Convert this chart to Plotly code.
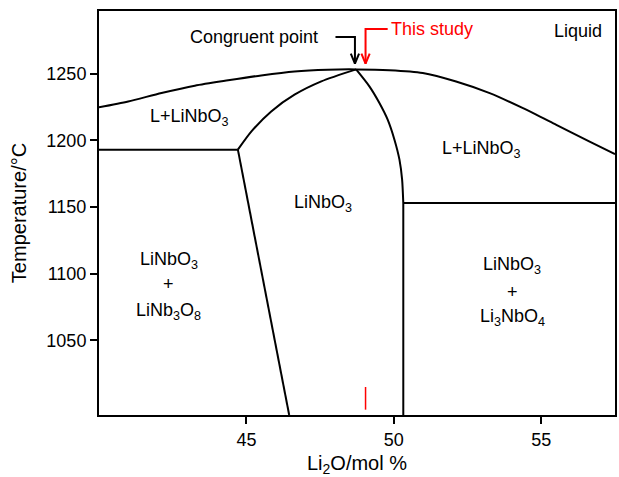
import plotly.graph_objects as go

# Phase boundaries (Li2O mol %, Temperature °C)
liquidus_x = [40.0, 40.99, 42.12, 43.25, 44.38, 45.5, 46.63, 47.76, 48.72,
              49.85, 50.98, 52.11, 53.25, 54.38, 55.51, 56.64, 57.5]
liquidus_y = [1224.8, 1229.2, 1235.5, 1241.0, 1245.0, 1248.7, 1251.7, 1253.0, 1253.2,
              1252.6, 1250.5, 1244.1, 1235.4, 1224.1, 1211.6, 1199.0, 1189.6]

solidus_left_x = [44.71, 45.17, 45.84, 46.63, 47.54, 48.72]
solidus_left_y = [1193.0, 1206.7, 1221.7, 1234.2, 1244.2, 1253.2]

solidus_right_x = [48.72, 49.17, 49.51, 49.79, 50.02, 50.19, 50.28, 50.32]
solidus_right_y = [1253.2, 1240.5, 1228.0, 1215.5, 1200.5, 1185.5, 1170.5, 1153.0]

vertical_right_x = [50.32, 50.32]
vertical_right_y = [1153.0, 994.0]

eutectic_left_x = [40.0, 44.71]
eutectic_left_y = [1193.0, 1193.0]

solvus_left_x = [44.71, 46.45]
solvus_left_y = [1193.0, 994.0]

eutectic_right_x = [50.32, 57.5]
eutectic_right_y = [1153.0, 1153.0]

# arrows (elbow paths)
congruent_arrow_x = [48.02, 48.68, 48.68]
congruent_arrow_y = [1277.5, 1277.5, 1257.5]
study_arrow_x = [49.79, 49.04, 49.04]
study_arrow_y = [1283.5, 1283.5, 1257.5]

# red composition marker at bottom
study_marker_x = [49.04, 49.04]
study_marker_y = [998.0, 1015.0]

x_ticks = [45, 50, 55]
y_ticks = [1050, 1100, 1150, 1200, 1250]

FONT = "Liberation Sans, Arial, sans-serif"

fig = go.Figure()

def add_line(xs, ys, color="black", width=2, shape="linear", smoothing=1.0):
    line = dict(color=color, width=width, shape=shape)
    if shape == "spline":
        line["smoothing"] = smoothing
    fig.add_trace(go.Scatter(x=xs, y=ys, mode="lines", line=line,
                             hoverinfo="skip", showlegend=False))

add_line(liquidus_x, liquidus_y, shape="spline", smoothing=0.7)
add_line(solidus_left_x, solidus_left_y, shape="spline", smoothing=0.7)
add_line(solidus_right_x, solidus_right_y, shape="spline", smoothing=0.7)
add_line(vertical_right_x, vertical_right_y)
add_line(eutectic_left_x, eutectic_left_y)
add_line(solvus_left_x, solvus_left_y)
add_line(eutectic_right_x, eutectic_right_y)
add_line(study_marker_x, study_marker_y, color="red", width=1.5)

def add_arrow(xs, ys, color):
    add_line(xs, ys, color=color, width=2)
    tx, ty = xs[-1], ys[-1]
    hw, hl = 0.14, 7.5
    add_line([tx - hw, tx, tx + hw], [ty + hl, ty, ty + hl], color=color, width=2)

add_arrow(congruent_arrow_x, congruent_arrow_y, "black")
add_arrow(study_arrow_x, study_arrow_y, "red")

ann_font = dict(family=FONT, size=18, color="black")
annotations = [
    dict(x=47.5, y=1277.5, text="Congruent point", xanchor="right", yanchor="middle",
         font=ann_font),
    dict(x=49.85, y=1283.5, text="This study", xanchor="left", yanchor="middle",
         font=dict(family=FONT, size=18, color="red")),
    dict(x=56.23, y=1282, text="Liquid", xanchor="center", yanchor="middle", font=ann_font),
    dict(x=43.08, y=1217, text="L+LiNbO<sub>3</sub>", xanchor="center", yanchor="middle", font=ann_font),
    dict(x=52.96, y=1193, text="L+LiNbO<sub>3</sub>", xanchor="center", yanchor="middle", font=ann_font),
    dict(x=47.59, y=1153, text="LiNbO<sub>3</sub>", xanchor="center", yanchor="middle", font=ann_font),
    dict(x=42.37, y=1110, text="LiNbO<sub>3</sub>", xanchor="center", yanchor="middle", font=ann_font),
    dict(x=42.37, y=1092, text="+", xanchor="center", yanchor="middle", font=ann_font),
    dict(x=42.37, y=1072, text="LiNb<sub>3</sub>O<sub>8</sub>", xanchor="center", yanchor="middle", font=ann_font),
    dict(x=54.02, y=1106, text="LiNbO<sub>3</sub>", xanchor="center", yanchor="middle", font=ann_font),
    dict(x=54.02, y=1086, text="+", xanchor="center", yanchor="middle", font=ann_font),
    dict(x=54.02, y=1067, text="Li<sub>3</sub>NbO<sub>4</sub>", xanchor="center", yanchor="middle", font=ann_font),
]
for a in annotations:
    a.update(showarrow=False, xref="x", yref="y")

fig.update_layout(
    width=619, height=477,
    margin=dict(l=99, r=2, t=11, b=62),
    paper_bgcolor="white", plot_bgcolor="white",
    font=dict(family=FONT, size=18, color="black"),
    annotations=annotations,
    showlegend=False,
)
fig.update_xaxes(range=[40, 57.5], tickvals=x_ticks, ticks="outside", ticklen=7, tickwidth=2,
                 tickcolor="black", showline=True, linewidth=2, linecolor="black", mirror=True,
                 showgrid=False, zeroline=False,
                 title=dict(text="Li<sub>2</sub>O/mol %", font=dict(size=20), standoff=10),
                 tickfont=dict(size=18))
fig.update_yaxes(range=[994, 1297], tickvals=y_ticks, ticks="outside", ticklen=7, tickwidth=2,
                 tickcolor="black", showline=True, linewidth=2, linecolor="black", mirror=True,
                 showgrid=False, zeroline=False,
                 title=dict(text="Temperature/°C", font=dict(size=20), standoff=14),
                 tickfont=dict(size=18))

fig.write_html("out.html", config={"displayModeBar": False},
               post_script="document.body.style.margin='0';document.body.style.overflow='hidden';")
